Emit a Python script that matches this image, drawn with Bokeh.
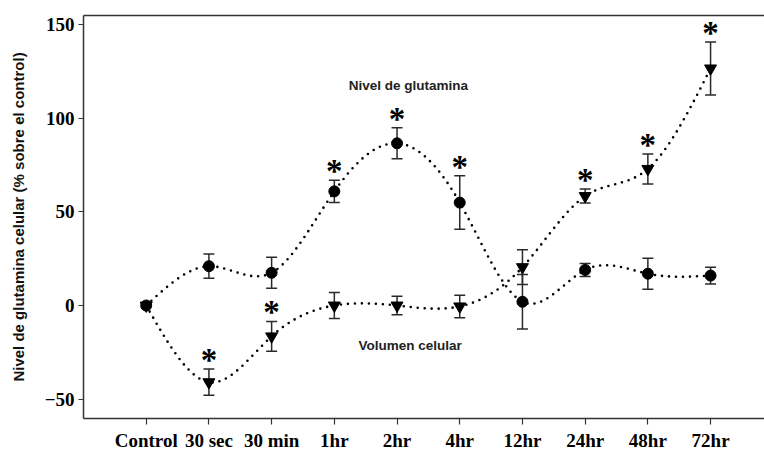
import numpy as np
from bokeh.plotting import figure
from bokeh.models import (ColumnDataSource, Range1d, FixedTicker, LinearAxis,
                          Whisker, TeeHead, Label)
from bokeh.core.properties import value
from bokeh.embed import file_html
from bokeh.resources import INLINE

# Time points after treatment
labels = ["Control", "30 sec", "30 min", "1hr", "2hr", "4hr",
          "12hr", "24hr", "48hr", "72hr"]

# Glutamine level (% over control), mean and error
glut = [0, 21, 17.5, 61, 86.7, 55, 2, 19, 17, 16]
glut_err = [0, 6.5, 8.3, 6, 8.3, 14.3, 14.5, 3.5, 8.3, 4.5]
glut_sig = [False, False, False, True, True, True, False, False, False, False]

# Cell volume (% over control), mean and error
vol = [0, -41, -16.5, 0, 0, -0.5, 20.5, 58.5, 73, 126.7]
vol_err = [0, 7, 8, 7, 5, 6, 9.3, 3.7, 8, 14.2]
vol_sig = [False, True, True, False, False, False, False, True, True, True]

y_ticks = [-50, 0, 50, 100, 150]

x = np.arange(len(labels), dtype=float)

SERIF = "Liberation Serif"
SANS = "Liberation Sans"
AXIS_COLOR = "#333333"


def natural_spline(xs, ys, n=400):
    """Smooth curve through the points (natural cubic spline)."""
    xs = np.asarray(xs, float)
    ys = np.asarray(ys, float)
    m = len(xs)
    h = np.diff(xs)
    A = np.zeros((m, m))
    b = np.zeros(m)
    A[0, 0] = A[-1, -1] = 1.0
    for i in range(1, m - 1):
        A[i, i - 1] = h[i - 1]
        A[i, i] = 2 * (h[i - 1] + h[i])
        A[i, i + 1] = h[i]
        b[i] = 3 * ((ys[i + 1] - ys[i]) / h[i] - (ys[i] - ys[i - 1]) / h[i - 1])
    c = np.linalg.solve(A, b)
    xf = np.linspace(xs[0], xs[-1], n)
    idx = np.clip(np.searchsorted(xs, xf) - 1, 0, m - 2)
    dx = xf - xs[idx]
    hi = h[idx]
    bi = (ys[idx + 1] - ys[idx]) / hi - hi * (2 * c[idx] + c[idx + 1]) / 3
    di = (c[idx + 1] - c[idx]) / (3 * hi)
    yf = ys[idx] + bi * dx + c[idx] * dx ** 2 + di * dx ** 3
    return xf, yf


p = figure(width=764, height=453, output_backend="svg", toolbar_location=None,
           x_range=Range1d(-1.0, 9.86), y_range=Range1d(-60.4, 155),
           min_border_left=83, min_border_right=0, min_border_top=15,
           min_border_bottom=35)
p.outline_line_color = None
p.grid.visible = False
p.background_fill_color = "white"
p.border_fill_color = "white"

# smooth dotted curves
for ys in (glut, vol):
    xf, yf = natural_spline(x, ys)
    p.line(xf, yf, line_color="black", line_width=2.6, line_dash="0 7",
           line_cap="round")

# error bars
for ys, es in ((glut, glut_err), (vol, vol_err)):
    keep = [i for i in range(len(ys)) if es[i] > 0]
    src = ColumnDataSource(dict(
        x=[x[i] for i in keep],
        upper=[ys[i] + es[i] for i in keep],
        lower=[ys[i] - es[i] for i in keep]))
    w = Whisker(source=src, base="x", upper="upper", lower="lower",
                line_color="#2a2a2a", line_width=1.5,
                upper_head=TeeHead(size=11, line_color="#2a2a2a", line_width=1.5),
                lower_head=TeeHead(size=11, line_color="#2a2a2a", line_width=1.5))
    p.add_layout(w)

# markers
p.scatter(x, glut, marker="circle", size=11, color="black")
p.scatter(x, vol, marker="inverted_triangle", size=12, color="black")

# significance asterisks above the error bars
ax, ay = [], []
for ys, es, sig in ((glut, glut_err, glut_sig), (vol, vol_err, vol_sig)):
    for i in range(len(ys)):
        if sig[i]:
            ax.append(x[i])
            ay.append(ys[i] + es[i])
p.text(ax, ay, text=["*"] * len(ax), text_font=value(SERIF),
       text_font_style="bold", text_font_size="33px", text_align="center",
       text_baseline="alphabetic", y_offset=-9, text_color="black")

# series labels
p.add_layout(Label(x=4.18, y=117.6, text="Nivel de glutamina",
                   text_font=SANS, text_font_style="bold",
                   text_font_size="13.5px", text_align="center",
                   text_baseline="middle", text_color="#222222"))
p.add_layout(Label(x=4.21, y=-21.4, text="Volumen celular",
                   text_font=SANS, text_font_style="bold",
                   text_font_size="13.5px", text_align="center",
                   text_baseline="middle", text_color="#222222"))

# x axis
xa = p.xaxis[0]
xa.ticker = FixedTicker(ticks=list(x))
xa.major_label_overrides = {i: lab for i, lab in enumerate(labels)}
xa.major_label_text_font = SERIF
xa.major_label_text_font_style = "bold"
xa.major_label_text_font_size = "19px"
xa.major_label_text_color = "black"
xa.major_label_standoff = 5
xa.major_tick_out = 6
xa.major_tick_in = 0
xa.minor_tick_out = 0
xa.minor_tick_in = 0
xa.axis_line_color = AXIS_COLOR
xa.axis_line_width = 1.5
xa.major_tick_line_color = AXIS_COLOR
xa.major_tick_line_width = 1.2

# y axis
ya = p.yaxis[0]
ya.ticker = FixedTicker(ticks=y_ticks)
ya.major_label_text_font = SERIF
ya.major_label_text_font_style = "bold"
ya.major_label_text_font_size = "19px"
ya.major_label_text_color = "black"
ya.major_label_standoff = 4
ya.major_tick_out = 5
ya.major_tick_in = 0
ya.minor_tick_out = 0
ya.minor_tick_in = 0
ya.axis_line_color = AXIS_COLOR
ya.axis_line_width = 1.5
ya.major_tick_line_color = AXIS_COLOR
ya.major_tick_line_width = 1.2
ya.axis_label = "Nivel de glutamina celular (% sobre el control)"
ya.axis_label_text_font = SANS
ya.axis_label_text_font_style = "bold"
ya.axis_label_text_font_size = "15px"
ya.axis_label_text_color = "#111111"
ya.axis_label_standoff = 15

# top frame line
top = LinearAxis(ticker=FixedTicker(ticks=[]), major_tick_out=0,
                 major_tick_in=0, minor_tick_out=0, minor_tick_in=0,
                 major_label_text_font_size="0px",
                 axis_line_color=AXIS_COLOR, axis_line_width=1.5)
p.add_layout(top, "above")

open("out.html", "w").write(file_html(p, INLINE))
